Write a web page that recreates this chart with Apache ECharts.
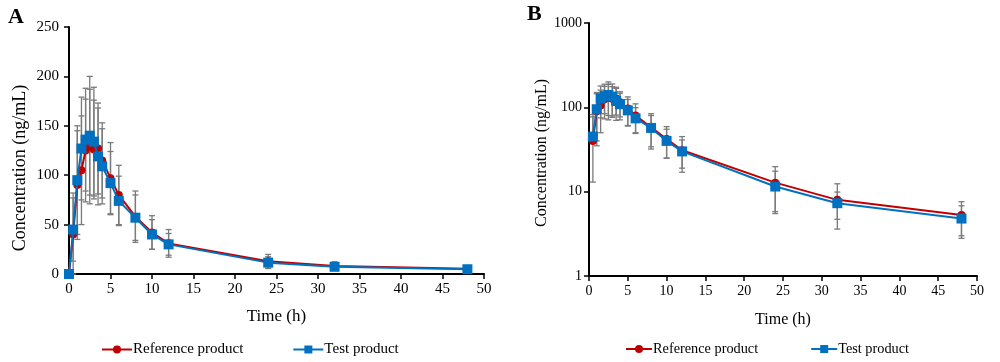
<!DOCTYPE html>
<html>
<head>
<meta charset="utf-8">
<script src="https://cdn.jsdelivr.net/npm/echarts@6/dist/echarts.min.js"></script>
<style>
html,body{margin:0;padding:0;background:#fff;}
#chart{width:1000px;height:362px;}
</style>
</head>
<body>
<div id="chart"></div>
<script>
// ---- data ----
const timeH    = [0, 0.5, 1, 1.5, 2, 2.5, 3, 3.5, 4, 5, 6, 8, 10, 12, 24, 32, 48];
const refMean  = [0, 40, 90, 105, 125, 129, 126, 127, 115, 97, 80, 58, 42, 31, 12.8, 8.0, 5.3];
const refSD    = [0, 42, 55, 55, 52, 58, 50, 46, 38, 36, 30, 26, 17, 14, 7.0, 4.4, 2.3];
const testMean = [0, 45, 95, 127, 136, 140, 134, 119, 109, 92, 74, 57, 40, 30, 11.5, 7.3, 4.8];
const testSD   = [0, 32, 55, 52, 52, 60, 55, 49, 38, 32, 25, 23, 15, 11, 6.0, 2.6, 2.0];
const xTicks   = {min: 0, max: 50, interval: 5};
const yTicksA  = {min: 0, max: 250, interval: 50};
const yTicksB  = {min: 1, max: 1000};
const seriesNames = ['Reference product', 'Test product'];

const RED = '#C00000', BLUE = '#0070C0', GREY = '#7a7a7a';
const FONT = 'Liberation Serif';

function pairs(means, logScale) {
  const out = [];
  timeH.forEach((t, i) => { if (!logScale || means[i] > 0) out.push([t, means[i]]); });
  return out;
}
function errData(means, sds, logScale) {
  const out = [];
  timeH.forEach((t, i) => {
    if (logScale && means[i] <= 0) return;
    out.push([t, means[i], means[i] - sds[i], means[i] + sds[i]]);
  });
  return out;
}
function errSeries(name, means, sds, idx, logScale) {
  return {
    type: 'custom', name: name + ' (SD)', xAxisIndex: idx, yAxisIndex: idx, z: 1,
    silent: true, legendHoverLink: false,
    data: errData(means, sds, logScale),
    encode: {x: 0, y: [1, 2, 3]},
    renderItem: function (params, api) {
      const x = api.value(0), m = api.value(1);
      let lo = api.value(2), hi = api.value(3);
      if (!logScale && lo < 0) lo = 0;
      const children = [];
      const pm = api.coord([x, m]);
      const ph = api.coord([x, hi]);
      const w = 3;
      const st = {stroke: GREY, lineWidth: 1.3};
      if (hi > m) {
        children.push({type: 'line', shape: {x1: ph[0], y1: ph[1], x2: pm[0], y2: pm[1]}, style: st});
        children.push({type: 'line', shape: {x1: ph[0] - w, y1: ph[1], x2: ph[0] + w, y2: ph[1]}, style: st});
      }
      if (lo < m && (!logScale || lo > 0)) {
        const pl = api.coord([x, lo]);
        children.push({type: 'line', shape: {x1: pl[0], y1: pl[1], x2: pm[0], y2: pm[1]}, style: st});
        children.push({type: 'line', shape: {x1: pl[0] - w, y1: pl[1], x2: pl[0] + w, y2: pl[1]}, style: st});
      }
      return {type: 'group', children: children};
    }
  };
}
function lineSeries(name, means, idx, logScale, color, symbol, size, z) {
  return {
    type: 'line', name: name, xAxisIndex: idx, yAxisIndex: idx, z: z,
    data: pairs(means, logScale),
    symbol: symbol, symbolSize: size, showSymbol: true,
    lineStyle: {color: color, width: 2},
    itemStyle: {color: color},
    emphasis: {disabled: true}
  };
}

const axisLine = {show: true, lineStyle: {color: '#000', width: 2}};
const axisTick = {show: true, inside: false, length: 5, lineStyle: {color: '#000', width: 1.5}};

function xAxis(idx, fs, gap) {
  return {
    type: 'value', gridIndex: idx, min: xTicks.min, max: xTicks.max, interval: xTicks.interval,
    name: 'Time (h)', nameLocation: 'middle', nameGap: gap,
    nameTextStyle: {fontFamily: FONT, fontSize: fs + 2, color: '#000'},
    axisLine: axisLine, axisTick: axisTick, splitLine: {show: false},
    axisLabel: {fontFamily: FONT, fontSize: fs, color: '#000', margin: 8}
  };
}

const legendTextA = {fontFamily: FONT, fontSize: 15, color: '#000', padding: [0, 0, 0, -4]};
const legendTextB = {fontFamily: FONT, fontSize: 14.3, color: '#000', padding: [0, 0, 0, -4]};

const chart = echarts.init(document.getElementById('chart'), null, {renderer: 'canvas'});
chart.setOption({
  animation: false,
  backgroundColor: '#fff',
  grid: [
    {left: 69, top: 27, width: 415, height: 247},
    {left: 589, top: 23, width: 388, height: 253}
  ],
  xAxis: [xAxis(0, 15, 34), xAxis(1, 14, 36)],
  yAxis: [
    {type: 'value', gridIndex: 0, min: yTicksA.min, max: yTicksA.max, interval: yTicksA.interval,
     axisLine: axisLine, axisTick: axisTick, splitLine: {show: false},
     axisLabel: {fontFamily: FONT, fontSize: 15, color: '#000', margin: 10}},
    {type: 'log', logBase: 10, gridIndex: 1, min: yTicksB.min, max: yTicksB.max,
     axisLine: axisLine, axisTick: axisTick, splitLine: {show: false}, minorTick: {show: false},
     axisLabel: {fontFamily: FONT, fontSize: 14, color: '#000', margin: 7,
                 formatter: function (v) { return String(Math.round(v)); }}}
  ],
  legend: [
    {data: seriesNames, left: 96, top: 337, itemWidth: 30, itemHeight: 10, itemGap: 49,
     textStyle: legendTextA, selectedMode: false},
    {data: seriesNames, left: 620, top: 337, itemWidth: 26, itemHeight: 10, itemGap: 52,
     textStyle: legendTextB, selectedMode: false}
  ],
  graphic: [
    {type: 'text', left: 8, top: 6, style: {text: 'A', font: 'bold 22px "Liberation Serif"', fill: '#000'}},
    {type: 'text', left: 527, top: 3, style: {text: 'B', font: 'bold 22px "Liberation Serif"', fill: '#000'}},
    {type: 'text', x: 20, y: 168, rotation: Math.PI / 2,
     style: {text: 'Concentration (ng/mL)', font: '18px "Liberation Serif"', fill: '#000', align: 'center', verticalAlign: 'middle'}},
    {type: 'text', x: 542, y: 153, rotation: Math.PI / 2,
     style: {text: 'Concentration (ng/mL)', font: '16px "Liberation Serif"', fill: '#000', align: 'center', verticalAlign: 'middle'}}
  ],
  series: [
    errSeries(seriesNames[0], refMean, refSD, 0, false),
    errSeries(seriesNames[1], testMean, testSD, 0, false),
    lineSeries(seriesNames[0], refMean, 0, false, RED, 'circle', 8, 3),
    lineSeries(seriesNames[1], testMean, 0, false, BLUE, 'rect', 10, 4),
    errSeries(seriesNames[0], refMean, refSD, 1, true),
    errSeries(seriesNames[1], testMean, testSD, 1, true),
    lineSeries(seriesNames[0], refMean, 1, true, RED, 'circle', 8, 3),
    lineSeries(seriesNames[1], testMean, 1, true, BLUE, 'rect', 10, 4)
  ]
});
</script>
</body>
</html>
